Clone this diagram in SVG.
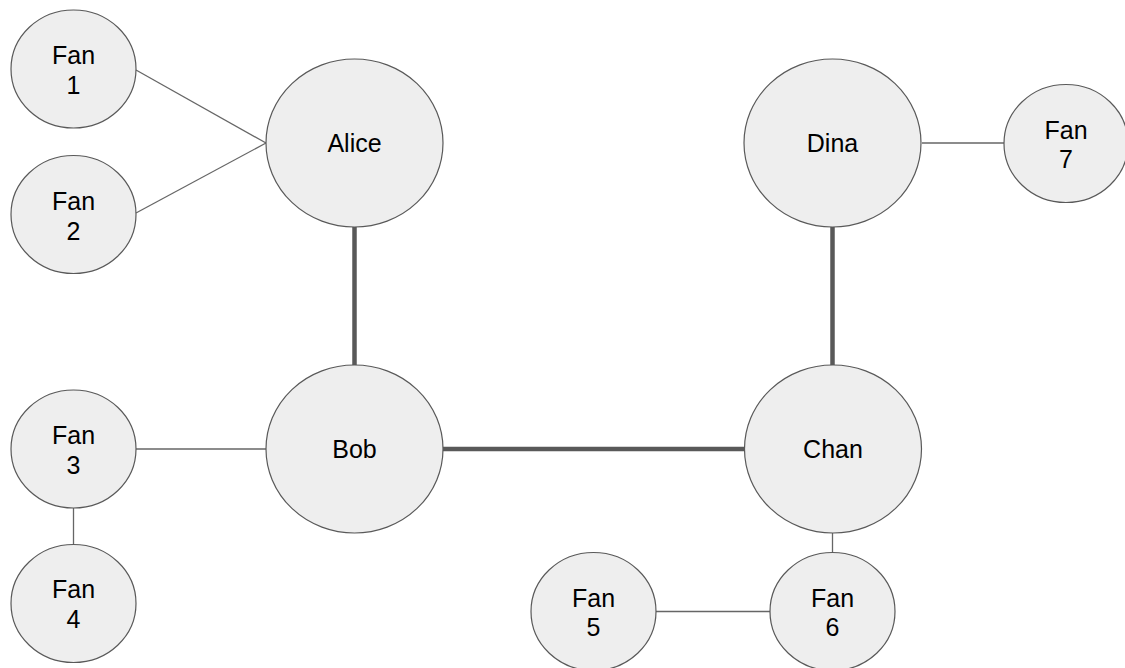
<svg xmlns="http://www.w3.org/2000/svg" width="1125" height="668" viewBox="0 0 1125 668">
  <style>
    .node { fill: #eeeeee; stroke: #595959; stroke-width: 1.2; }
    .label { font-family: "Liberation Sans", Arial, sans-serif; font-size: 25px; fill: #000000; text-anchor: middle; }
    .thin { stroke: #666666; stroke-width: 1.3; fill: none; }
    .thick { stroke: #595959; stroke-width: 4.5; fill: none; }
  </style>
  <rect width="1125" height="668" fill="#ffffff"/>

  <!-- links between people and fans -->
  <g id="connectors">
    <line class="thick" x1="354.5" y1="227" x2="354.5" y2="365"/>
    <line class="thick" x1="832.5" y1="227" x2="832.5" y2="365"/>
    <line class="thick" x1="443" y1="449" x2="744" y2="449"/>
    <line class="thin" x1="136" y1="70" x2="266" y2="143"/>
    <line class="thin" x1="136" y1="213" x2="266" y2="143"/>
    <line class="thin" x1="136" y1="449" x2="266" y2="449"/>
    <line class="thin" x1="73.5" y1="508" x2="73.5" y2="544"/>
    <line class="thin" x1="922" y1="143" x2="1004" y2="143"/>
    <line class="thin" x1="832.5" y1="533" x2="832.5" y2="552.5"/>
    <line class="thin" x1="656" y1="611.5" x2="770" y2="611.5"/>
  </g>

  <g id="alice">
    <ellipse class="node" cx="354.5" cy="143" rx="88.5" ry="84"/>
    <text class="label" x="354.5" y="152">Alice</text>
  </g>
  <g id="bob">
    <ellipse class="node" cx="354.5" cy="449" rx="88.5" ry="84"/>
    <text class="label" x="354.5" y="458">Bob</text>
  </g>
  <g id="chan">
    <ellipse class="node" cx="833" cy="449" rx="88.5" ry="84"/>
    <text class="label" x="833" y="458">Chan</text>
  </g>
  <g id="dina">
    <ellipse class="node" cx="832.5" cy="143" rx="88.5" ry="84"/>
    <text class="label" x="832.5" y="152">Dina</text>
  </g>

  <g id="fan1">
    <ellipse class="node" cx="73.5" cy="69" rx="62.5" ry="59"/>
    <text class="label" x="73.5" y="64">Fan</text>
    <text class="label" x="73.5" y="94">1</text>
  </g>
  <g id="fan2">
    <ellipse class="node" cx="73.5" cy="214.5" rx="62.5" ry="59"/>
    <text class="label" x="73.5" y="209.5">Fan</text>
    <text class="label" x="73.5" y="239.5">2</text>
  </g>
  <g id="fan3">
    <ellipse class="node" cx="73.5" cy="449" rx="62.5" ry="59"/>
    <text class="label" x="73.5" y="443.5">Fan</text>
    <text class="label" x="73.5" y="473.5">3</text>
  </g>
  <g id="fan4">
    <ellipse class="node" cx="73.5" cy="603.5" rx="62.5" ry="59"/>
    <text class="label" x="73.5" y="598">Fan</text>
    <text class="label" x="73.5" y="628">4</text>
  </g>
  <g id="fan5">
    <ellipse class="node" cx="593.5" cy="611.5" rx="62.5" ry="59"/>
    <text class="label" x="593.5" y="606.5">Fan</text>
    <text class="label" x="593.5" y="636">5</text>
  </g>
  <g id="fan6">
    <ellipse class="node" cx="832.5" cy="611.5" rx="62.5" ry="59"/>
    <text class="label" x="832.5" y="606.5">Fan</text>
    <text class="label" x="832.5" y="636">6</text>
  </g>
  <g id="fan7">
    <ellipse class="node" cx="1066" cy="143.5" rx="62" ry="59"/>
    <text class="label" x="1066" y="138.5">Fan</text>
    <text class="label" x="1066" y="168">7</text>
  </g>
</svg>
